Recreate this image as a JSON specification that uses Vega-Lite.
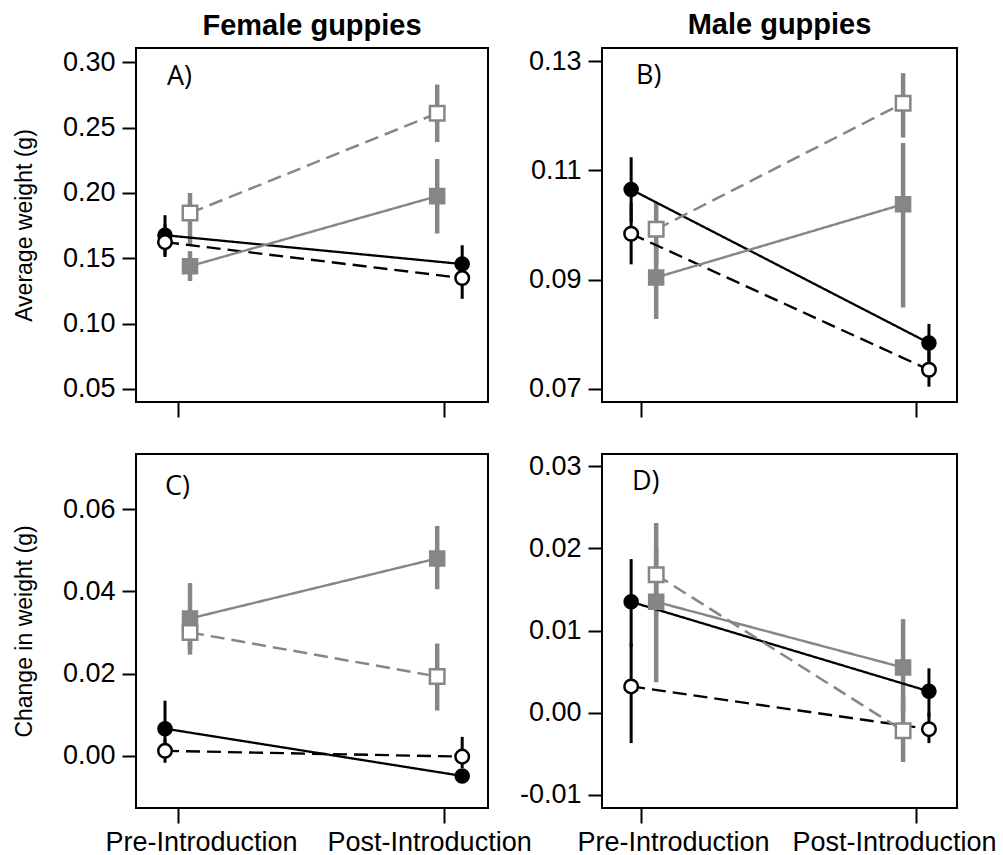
{
  "$schema": "https://vega.github.io/schema/vega-lite/v6.json",
  "padding": {"left": 12, "top": 10, "right": 0, "bottom": 0},
  "background": "white",
  "config": {
    "view": {"stroke": "black", "strokeWidth": 2},
    "axis": {"labelFont": "Liberation Sans", "labelFontSize": 27, "labelColor": "black", "labelLimit": 0, "tickColor": "black", "tickWidth": 2, "domain": false, "grid": false, "titleFont": "Liberation Sans", "titleFontSize": 23, "titleFontWeight": "normal", "titleColor": "black"},
    "axisY": {"tickSize": 14, "labelPadding": 7, "titlePadding": 26},
    "axisX": {"tickSize": 15, "labelPadding": 6},
    "title": {"font": "Liberation Sans", "fontSize": 29, "fontWeight": "bold", "color": "black", "offset": 7}
  },
  "datasets": {
    "pts": [
      {"p": "A", "s": "F", "x": 0.951, "y": 0.1677, "lo": 0.152, "hi": 0.183},
      {"p": "A", "s": "F", "x": 2.068, "y": 0.1456, "lo": 0.131, "hi": 0.160},
      {"p": "A", "s": "O", "x": 0.951, "y": 0.1624, "lo": 0.151, "hi": 0.176},
      {"p": "A", "s": "O", "x": 2.068, "y": 0.1349, "lo": 0.119, "hi": 0.150},
      {"p": "A", "s": "GF", "x": 1.045, "y": 0.144, "lo": 0.1326, "hi": 0.1555},
      {"p": "A", "s": "GF", "x": 1.974, "y": 0.1976, "lo": 0.169, "hi": 0.226},
      {"p": "A", "s": "GO", "x": 1.045, "y": 0.1846, "lo": 0.160, "hi": 0.200},
      {"p": "A", "s": "GO", "x": 1.974, "y": 0.261, "lo": 0.239, "hi": 0.283},
      {"p": "B", "s": "F", "x": 0.964, "y": 0.1065, "lo": 0.1005, "hi": 0.1124},
      {"p": "B", "s": "F", "x": 2.047, "y": 0.0784, "lo": 0.0750, "hi": 0.0819},
      {"p": "B", "s": "O", "x": 0.964, "y": 0.0984, "lo": 0.0928, "hi": 0.1040},
      {"p": "B", "s": "O", "x": 2.047, "y": 0.0735, "lo": 0.0704, "hi": 0.0770},
      {"p": "B", "s": "GF", "x": 1.055, "y": 0.0904, "lo": 0.0828, "hi": 0.0970},
      {"p": "B", "s": "GF", "x": 1.953, "y": 0.1038, "lo": 0.0849, "hi": 0.1150},
      {"p": "B", "s": "GO", "x": 1.055, "y": 0.0992, "lo": 0.0930, "hi": 0.1041},
      {"p": "B", "s": "GO", "x": 1.953, "y": 0.1223, "lo": 0.1160, "hi": 0.1278},
      {"p": "C", "s": "F", "x": 0.951, "y": 0.0066, "lo": 0.0000, "hi": 0.0134},
      {"p": "C", "s": "F", "x": 2.068, "y": -0.0049, "lo": -0.0060, "hi": -0.0035},
      {"p": "C", "s": "O", "x": 0.951, "y": 0.0012, "lo": -0.0017, "hi": 0.0040},
      {"p": "C", "s": "O", "x": 2.068, "y": -0.0002, "lo": -0.0030, "hi": 0.0046},
      {"p": "C", "s": "GF", "x": 1.045, "y": 0.0334, "lo": 0.0260, "hi": 0.0420},
      {"p": "C", "s": "GF", "x": 1.974, "y": 0.0480, "lo": 0.0405, "hi": 0.0559},
      {"p": "C", "s": "GO", "x": 1.045, "y": 0.0300, "lo": 0.0246, "hi": 0.0345},
      {"p": "C", "s": "GO", "x": 1.974, "y": 0.0193, "lo": 0.0110, "hi": 0.0273},
      {"p": "D", "s": "F", "x": 0.964, "y": 0.0135, "lo": 0.0080, "hi": 0.0187},
      {"p": "D", "s": "F", "x": 2.047, "y": 0.0026, "lo": -0.0005, "hi": 0.0054},
      {"p": "D", "s": "O", "x": 0.964, "y": 0.0032, "lo": -0.0037, "hi": 0.0085},
      {"p": "D", "s": "O", "x": 2.047, "y": -0.0020, "lo": -0.0037, "hi": 0.0000},
      {"p": "D", "s": "GF", "x": 1.055, "y": 0.0135, "lo": 0.0037, "hi": 0.0200},
      {"p": "D", "s": "GF", "x": 1.953, "y": 0.0055, "lo": 0.0000, "hi": 0.0114},
      {"p": "D", "s": "GO", "x": 1.055, "y": 0.0168, "lo": 0.0120, "hi": 0.0231},
      {"p": "D", "s": "GO", "x": 1.953, "y": -0.0022, "lo": -0.0060, "hi": 0.0020}
    ]
  },
  "columns": 2,
  "spacing": {"row": 52, "column": 114},
  "bounds": "flush",
  "concat": [
    {
      "width": 352, "height": 354,
      "title": {"text": "Female guppies"},
      "data": {"name": "pts"},
      "transform": [{"filter": "datum.p === 'A'"}],
      "layer": [
        {"transform": [{"filter": "datum.s === 'F' || datum.s === 'O'"}],
         "mark": {"type": "rule", "color": "black", "strokeWidth": 3},
         "encoding": {
           "x": {"field": "x", "type": "quantitative", "scale": {"domain": [0.842, 2.165], "nice": false, "zero": false}, "axis": {"values": [1, 2], "labels": false, "title": null}},
           "y": {"field": "lo", "type": "quantitative", "scale": {"domain": [0.040, 0.311], "nice": false, "zero": false}, "axis": {"values": [0.05, 0.1, 0.15, 0.2, 0.25, 0.3], "format": ".2f", "title": "Average weight (g)"}},
           "y2": {"field": "hi"}}},
        {"transform": [{"filter": "datum.s === 'GF' || datum.s === 'GO'"}],
         "mark": {"type": "rule", "color": "#868686", "strokeWidth": 4.5},
         "encoding": {
           "x": {"field": "x", "type": "quantitative"},
           "y": {"field": "lo", "type": "quantitative"},
           "y2": {"field": "hi"}}},
        {"mark": {"type": "line"},
         "encoding": {
           "x": {"field": "x", "type": "quantitative"},
           "y": {"field": "y", "type": "quantitative"},
           "stroke": {"field": "s", "scale": {"domain": ["F", "O", "GF", "GO"], "range": ["#000000", "#000000", "#868686", "#868686"]}, "legend": null},
           "strokeDash": {"field": "s", "scale": {"domain": ["F", "O", "GF", "GO"], "range": [[1, 0], [14, 7], [1, 0], [14, 7]]}, "legend": null},
           "strokeWidth": {"field": "s", "scale": {"domain": ["F", "O", "GF", "GO"], "range": [2.3, 2.5, 4, 4]}, "legend": null}}},
        {"mark": {"type": "point", "filled": true, "opacity": 1, "strokeWidth": 2.5},
         "encoding": {
           "x": {"field": "x", "type": "quantitative"},
           "y": {"field": "y", "type": "quantitative"},
           "shape": {"field": "s", "scale": {"domain": ["F", "O", "GF", "GO"], "range": ["circle", "circle", "square", "square"]}, "legend": null},
           "fill": {"field": "s", "scale": {"domain": ["F", "O", "GF", "GO"], "range": ["#000000", "#ffffff", "#868686", "#ffffff"]}, "legend": null},
           "stroke": {"field": "s", "scale": {"domain": ["F", "O", "GF", "GO"], "range": ["#000000", "#000000", "#868686", "#868686"]}, "legend": null},
           "size": {"field": "s", "scale": {"domain": ["F", "O", "GF", "GO"], "range": [170, 210, 220, 240]}, "legend": null}}},
        {"data": {"values": [{"label": "A)"}]},
         "mark": {"type": "text", "align": "left", "baseline": "alphabetic", "font": "Open Sans", "fontSize": 27, "color": "black"},
         "encoding": {"x": {"datum": 0.9586}, "y": {"datum": 0.2824}, "text": {"field": "label"}}}
      ]
    },
    {
      "width": 355, "height": 354,
      "title": {"text": "Male guppies"},
      "data": {"name": "pts"},
      "transform": [{"filter": "datum.p === 'B'"}],
      "layer": [
        {"transform": [{"filter": "datum.s === 'F' || datum.s === 'O'"}],
         "mark": {"type": "rule", "color": "black", "strokeWidth": 3},
         "encoding": {
           "x": {"field": "x", "type": "quantitative", "scale": {"domain": [0.858, 2.149], "nice": false, "zero": false}, "axis": {"values": [1, 2], "labels": false, "title": null}},
           "y": {"field": "lo", "type": "quantitative", "scale": {"domain": [0.0676, 0.1324], "nice": false, "zero": false}, "axis": {"values": [0.07, 0.09, 0.11, 0.13], "format": ".2f", "title": null}},
           "y2": {"field": "hi"}}},
        {"transform": [{"filter": "datum.s === 'GF' || datum.s === 'GO'"}],
         "mark": {"type": "rule", "color": "#868686", "strokeWidth": 4.5},
         "encoding": {
           "x": {"field": "x", "type": "quantitative"},
           "y": {"field": "lo", "type": "quantitative"},
           "y2": {"field": "hi"}}},
        {"mark": {"type": "line"},
         "encoding": {
           "x": {"field": "x", "type": "quantitative"},
           "y": {"field": "y", "type": "quantitative"},
           "stroke": {"field": "s", "scale": {"domain": ["F", "O", "GF", "GO"], "range": ["#000000", "#000000", "#868686", "#868686"]}, "legend": null},
           "strokeDash": {"field": "s", "scale": {"domain": ["F", "O", "GF", "GO"], "range": [[1, 0], [14, 7], [1, 0], [14, 7]]}, "legend": null},
           "strokeWidth": {"field": "s", "scale": {"domain": ["F", "O", "GF", "GO"], "range": [2.3, 2.5, 4, 4]}, "legend": null}}},
        {"mark": {"type": "point", "filled": true, "opacity": 1, "strokeWidth": 2.5},
         "encoding": {
           "x": {"field": "x", "type": "quantitative"},
           "y": {"field": "y", "type": "quantitative"},
           "shape": {"field": "s", "scale": {"domain": ["F", "O", "GF", "GO"], "range": ["circle", "circle", "square", "square"]}, "legend": null},
           "fill": {"field": "s", "scale": {"domain": ["F", "O", "GF", "GO"], "range": ["#000000", "#ffffff", "#868686", "#ffffff"]}, "legend": null},
           "stroke": {"field": "s", "scale": {"domain": ["F", "O", "GF", "GO"], "range": ["#000000", "#000000", "#868686", "#868686"]}, "legend": null},
           "size": {"field": "s", "scale": {"domain": ["F", "O", "GF", "GO"], "range": [170, 210, 220, 240]}, "legend": null}}},
        {"data": {"values": [{"label": "B)"}]},
         "mark": {"type": "text", "align": "left", "baseline": "alphabetic", "font": "Open Sans", "fontSize": 27, "color": "black"},
         "encoding": {"x": {"datum": 0.9816}, "y": {"datum": 0.1258}, "text": {"field": "label"}}}
      ]
    },
    {
      "width": 352, "height": 354,
      "data": {"name": "pts"},
      "transform": [{"filter": "datum.p === 'C'"}],
      "layer": [
        {"transform": [{"filter": "datum.s === 'F' || datum.s === 'O'"}],
         "mark": {"type": "rule", "color": "black", "strokeWidth": 3},
         "encoding": {
           "x": {"field": "x", "type": "quantitative", "scale": {"domain": [0.842, 2.165], "nice": false, "zero": false}, "axis": {"values": [1, 2], "labelExpr": "datum.value == 1 ? 'Pre-Introduction' : 'Post-Introduction'", "labelOffset": {"condition": {"test": "datum.value == 1", "value": 23}, "value": -15}, "title": null}},
           "y": {"field": "lo", "type": "quantitative", "scale": {"domain": [-0.0127, 0.0734], "nice": false, "zero": false}, "axis": {"values": [0, 0.02, 0.04, 0.06], "labelExpr": "(datum.value < -0.0001 ? '-' : '') + format(abs(datum.value), '.2f')", "title": "Change in weight (g)"}},
           "y2": {"field": "hi"}}},
        {"transform": [{"filter": "datum.s === 'GF' || datum.s === 'GO'"}],
         "mark": {"type": "rule", "color": "#868686", "strokeWidth": 4.5},
         "encoding": {
           "x": {"field": "x", "type": "quantitative"},
           "y": {"field": "lo", "type": "quantitative"},
           "y2": {"field": "hi"}}},
        {"mark": {"type": "line"},
         "encoding": {
           "x": {"field": "x", "type": "quantitative"},
           "y": {"field": "y", "type": "quantitative"},
           "stroke": {"field": "s", "scale": {"domain": ["F", "O", "GF", "GO"], "range": ["#000000", "#000000", "#868686", "#868686"]}, "legend": null},
           "strokeDash": {"field": "s", "scale": {"domain": ["F", "O", "GF", "GO"], "range": [[1, 0], [14, 7], [1, 0], [14, 7]]}, "legend": null},
           "strokeWidth": {"field": "s", "scale": {"domain": ["F", "O", "GF", "GO"], "range": [2.3, 2.5, 4, 4]}, "legend": null}}},
        {"mark": {"type": "point", "filled": true, "opacity": 1, "strokeWidth": 2.5},
         "encoding": {
           "x": {"field": "x", "type": "quantitative"},
           "y": {"field": "y", "type": "quantitative"},
           "shape": {"field": "s", "scale": {"domain": ["F", "O", "GF", "GO"], "range": ["circle", "circle", "square", "square"]}, "legend": null},
           "fill": {"field": "s", "scale": {"domain": ["F", "O", "GF", "GO"], "range": ["#000000", "#ffffff", "#868686", "#ffffff"]}, "legend": null},
           "stroke": {"field": "s", "scale": {"domain": ["F", "O", "GF", "GO"], "range": ["#000000", "#000000", "#868686", "#868686"]}, "legend": null},
           "size": {"field": "s", "scale": {"domain": ["F", "O", "GF", "GO"], "range": [170, 210, 220, 240]}, "legend": null}}},
        {"data": {"values": [{"label": "C)"}]},
         "mark": {"type": "text", "align": "left", "baseline": "alphabetic", "font": "Open Sans", "fontSize": 27, "color": "black"},
         "encoding": {"x": {"datum": 0.951}, "y": {"datum": 0.0634}, "text": {"field": "label"}}}
      ]
    },
    {
      "width": 355, "height": 354,
      "data": {"name": "pts"},
      "transform": [{"filter": "datum.p === 'D'"}],
      "layer": [
        {"transform": [{"filter": "datum.s === 'F' || datum.s === 'O'"}],
         "mark": {"type": "rule", "color": "black", "strokeWidth": 3},
         "encoding": {
           "x": {"field": "x", "type": "quantitative", "scale": {"domain": [0.858, 2.149], "nice": false, "zero": false}, "axis": {"values": [1, 2], "labelExpr": "datum.value == 1 ? 'Pre-Introduction' : 'Post-Introduction'", "labelOffset": {"condition": {"test": "datum.value == 1", "value": 32}, "value": -22}, "title": null}},
           "y": {"field": "lo", "type": "quantitative", "scale": {"domain": [-0.0116, 0.0315], "nice": false, "zero": false}, "axis": {"values": [-0.01, 0, 0.01, 0.02, 0.03], "labelExpr": "(datum.value < -0.0001 ? '-' : '') + format(abs(datum.value), '.2f')", "title": null}},
           "y2": {"field": "hi"}}},
        {"transform": [{"filter": "datum.s === 'GF' || datum.s === 'GO'"}],
         "mark": {"type": "rule", "color": "#868686", "strokeWidth": 4.5},
         "encoding": {
           "x": {"field": "x", "type": "quantitative"},
           "y": {"field": "lo", "type": "quantitative"},
           "y2": {"field": "hi"}}},
        {"mark": {"type": "line"},
         "encoding": {
           "x": {"field": "x", "type": "quantitative"},
           "y": {"field": "y", "type": "quantitative"},
           "stroke": {"field": "s", "scale": {"domain": ["F", "O", "GF", "GO"], "range": ["#000000", "#000000", "#868686", "#868686"]}, "legend": null},
           "strokeDash": {"field": "s", "scale": {"domain": ["F", "O", "GF", "GO"], "range": [[1, 0], [14, 7], [1, 0], [14, 7]]}, "legend": null},
           "strokeWidth": {"field": "s", "scale": {"domain": ["F", "O", "GF", "GO"], "range": [2.3, 2.5, 4, 4]}, "legend": null}}},
        {"mark": {"type": "point", "filled": true, "opacity": 1, "strokeWidth": 2.5},
         "encoding": {
           "x": {"field": "x", "type": "quantitative"},
           "y": {"field": "y", "type": "quantitative"},
           "shape": {"field": "s", "scale": {"domain": ["F", "O", "GF", "GO"], "range": ["circle", "circle", "square", "square"]}, "legend": null},
           "fill": {"field": "s", "scale": {"domain": ["F", "O", "GF", "GO"], "range": ["#000000", "#ffffff", "#868686", "#ffffff"]}, "legend": null},
           "stroke": {"field": "s", "scale": {"domain": ["F", "O", "GF", "GO"], "range": ["#000000", "#000000", "#868686", "#868686"]}, "legend": null},
           "size": {"field": "s", "scale": {"domain": ["F", "O", "GF", "GO"], "range": [170, 210, 220, 240]}, "legend": null}}},
        {"data": {"values": [{"label": "D)"}]},
         "mark": {"type": "text", "align": "left", "baseline": "alphabetic", "font": "Open Sans", "fontSize": 27, "color": "black"},
         "encoding": {"x": {"datum": 0.967}, "y": {"datum": 0.02706}, "text": {"field": "label"}}}
      ]
    }
  ]
}
